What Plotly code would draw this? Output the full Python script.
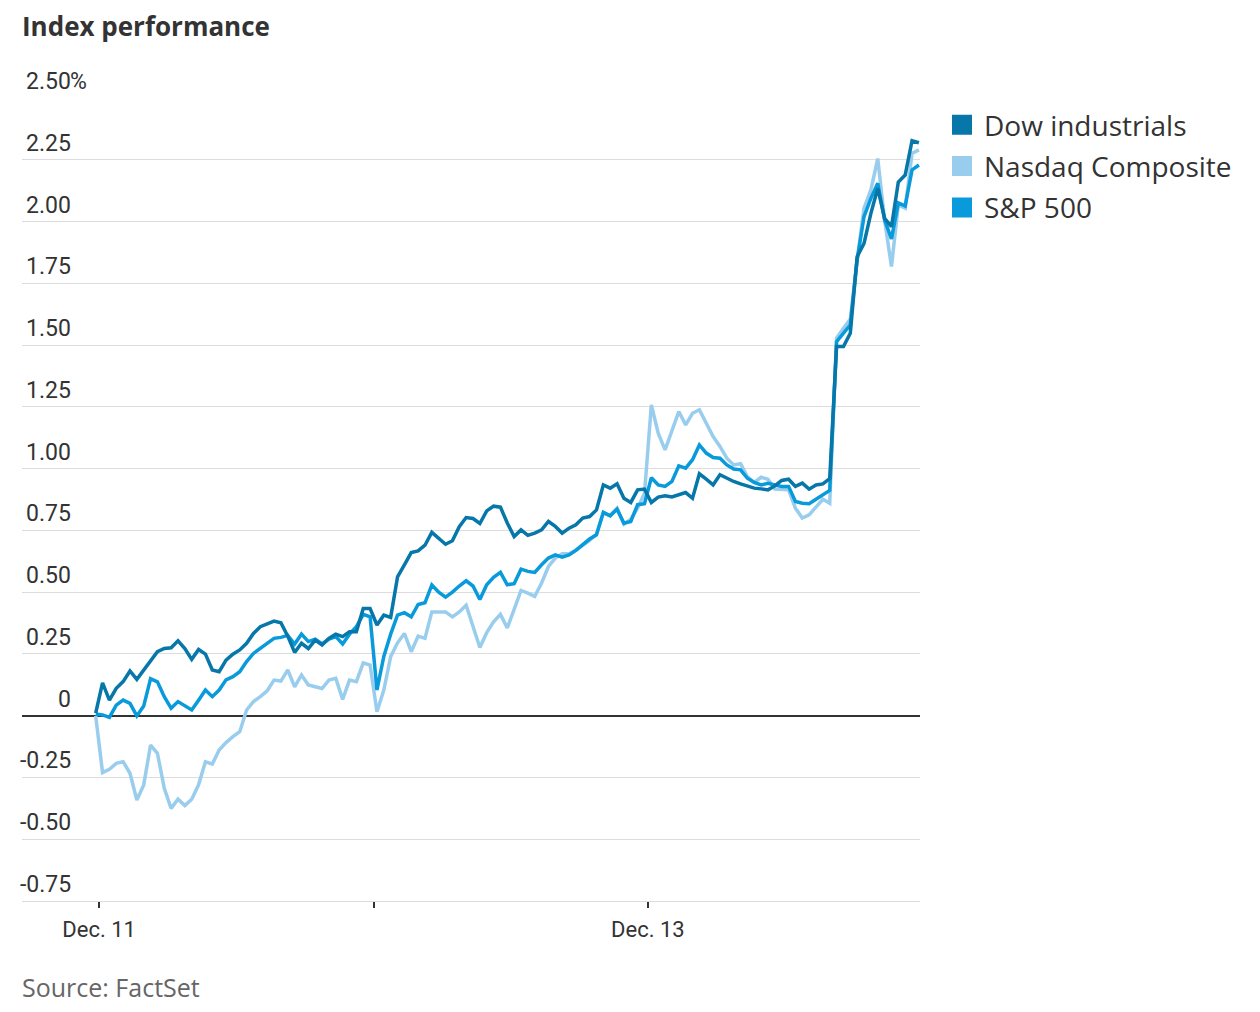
import plotly.graph_objects as go

# ---- data (percent change, 10-minute intervals; index 0 = prior close) ----
dow = [0.01, 0.133, 0.063, 0.111, 0.138, 0.181, 0.147, 0.185, 0.225, 0.259,
       0.272, 0.275, 0.303, 0.272, 0.228, 0.268, 0.249, 0.185, 0.178, 0.225,
       0.249, 0.266, 0.293, 0.333, 0.360, 0.371, 0.383, 0.376, 0.322,
       0.256, 0.293, 0.272, 0.306, 0.286, 0.313, 0.33, 0.32, 0.34, 0.34,
       0.434, 0.434, 0.367, 0.407, 0.398, 0.562, 0.61, 0.66, 0.667, 0.69,
       0.742, 0.717, 0.694, 0.708, 0.765, 0.802, 0.798, 0.778, 0.829, 0.848,
       0.844, 0.78, 0.725, 0.752, 0.73, 0.739, 0.752, 0.786, 0.766, 0.739,
       0.759, 0.773, 0.80, 0.806, 0.833, 0.934, 0.921, 0.939, 0.88, 0.863,
       0.914, 0.917, 0.863, 0.885, 0.89, 0.885,
       0.894, 0.903, 0.88, 0.979, 0.957, 0.934, 0.975, 0.961, 0.948, 0.938,
       0.928, 0.921, 0.918, 0.914, 0.93, 0.952, 0.957, 0.928, 0.941, 0.917,
       0.934, 0.938, 0.96,
       1.494, 1.494, 1.548, 1.858, 1.912, 2.033, 2.135, 2.013, 1.979, 2.16,
       2.188, 2.327, 2.319]

nasdaq = [0.0, -0.23, -0.217, -0.193, -0.186, -0.233, -0.341, -0.28, -0.119, -0.152,
          -0.294, -0.375, -0.338, -0.364, -0.338, -0.28, -0.186, -0.196, -0.139, -0.109,
          -0.085, -0.065, 0.023, 0.057, 0.077, 0.101, 0.144, 0.14, 0.185, 0.117,
          0.165, 0.124, 0.117, 0.11, 0.144, 0.151, 0.066, 0.144, 0.138, 0.214,
          0.205, 0.016, 0.104, 0.239, 0.295, 0.333, 0.259, 0.322, 0.313, 0.42,
          0.42, 0.42, 0.40, 0.42, 0.447, 0.36, 0.276, 0.336, 0.38,
          0.41, 0.355, 0.43, 0.507, 0.496, 0.483, 0.537, 0.604, 0.638, 0.655,
          0.655, 0.67, 0.69, 0.71, 0.735, 0.82, 0.81, 0.84, 0.775, 0.795,
          0.84, 0.90,
          1.258, 1.143, 1.076, 1.157, 1.231, 1.177, 1.224, 1.238, 1.184, 1.13,
          1.09, 1.042, 1.015, 1.02, 0.968, 0.944, 0.965, 0.957, 0.917, 0.914,
          0.914, 0.84, 0.80, 0.813, 0.847, 0.876, 0.86,
          1.528, 1.568, 1.605, 1.845, 2.054, 2.128, 2.255, 2.006, 1.818, 2.067,
          2.054, 2.276, 2.29]

sp500 = [0.007, 0.003, -0.007, 0.043, 0.063, 0.05, -0.001, 0.039, 0.15, 0.137,
         0.077, 0.03, 0.057, 0.039, 0.023, 0.063, 0.104, 0.077, 0.104, 0.145,
         0.158, 0.178, 0.219, 0.252, 0.272, 0.293, 0.313, 0.317, 0.325, 0.29,
         0.33, 0.30, 0.31, 0.29, 0.31, 0.32, 0.29, 0.33, 0.36, 0.41,
         0.40, 0.104, 0.24, 0.33, 0.407, 0.417, 0.40, 0.45, 0.457, 0.529,
         0.50, 0.48, 0.50, 0.525, 0.546, 0.525, 0.47, 0.53, 0.56,
         0.58, 0.53, 0.534, 0.593, 0.584, 0.58, 0.611, 0.638, 0.651, 0.642,
         0.651, 0.669, 0.692, 0.715, 0.732, 0.823, 0.809, 0.836, 0.779, 0.786,
         0.854, 0.858,
         0.963, 0.934, 0.928, 0.948, 1.011, 1.002, 1.036, 1.096, 1.063, 1.045,
         1.042, 1.015, 0.998, 0.995, 0.961, 0.944, 0.934, 0.941, 0.934, 0.928,
         0.928, 0.867, 0.86, 0.858, 0.876, 0.894, 0.912,
         1.514, 1.548, 1.582, 1.845, 2.02, 2.094, 2.155, 2.006, 1.93, 2.075,
         2.063, 2.209, 2.229]

x = list(range(len(dow)))

day_ticks = [0.5, 40.5, 80.5]
day_labels = ["Dec. 11", "", "Dec. 13"]

y_ticks = [2.5, 2.25, 2.0, 1.75, 1.5, 1.25, 1.0, 0.75, 0.5, 0.25, 0.0,
           -0.25, -0.5, -0.75]
y_labels = ["2.50%", "2.25", "2.00", "1.75", "1.50", "1.25", "1.00", "0.75",
            "0.50", "0.25", "0", "-0.25", "-0.50", "-0.75"]

series = [
    ("Nasdaq Composite", nasdaq, "#99CDEE"),
    ("S&P 500", sp500, "#089ADA"),
    ("Dow industrials", dow, "#0777AA"),
]
legend_order = ["Dow industrials", "Nasdaq Composite", "S&P 500"]

NARROW = "Roboto, Liberation Sans, sans-serif"
SANS = "Open Sans, Noto Sans, sans-serif"

# figure is placed by the page at (8, 8); sizes below account for that
W, H = 1252, 1004
ML, MR, MT, MB = 14, 340, 89, 111
plot_w = W - ML - MR
plot_h = H - MT - MB
y_top = 2.5 + 3.25 / (plot_h - 1)

fig = go.Figure()
for name, vals, color in series:
    fig.add_trace(go.Scatter(x=x, y=vals, mode="lines", name=name,
                             line=dict(color=color, width=3.5),
                             showlegend=False, hoverinfo="skip"))

colors = {n: c for n, _, c in series}
for name in legend_order:
    fig.add_trace(go.Scatter(x=[None], y=[None], mode="markers", name=name,
                             legendgroup=name,
                             marker=dict(symbol="square", size=16,
                                         color=colors[name],
                                         line=dict(color=colors[name], width=4))))

label_x = 51 / plot_w
annotations = []
for v, lab in zip(y_ticks, y_labels):
    num = lab.rstrip("%")
    annotations.append(dict(xref="paper", yref="y", x=label_x, y=v,
                            text=num, showarrow=False, xanchor="right",
                            yanchor="bottom", yshift=1,
                            font=dict(family=NARROW, size=23, color="#333333")))
    if lab.endswith("%"):
        annotations.append(dict(xref="paper", yref="y", x=label_x, y=v,
                                text="%", showarrow=False, xanchor="left",
                                yanchor="bottom", yshift=1, xshift=-5,
                                font=dict(family=NARROW, size=23, color="#333333")))

annotations.append(dict(xref="paper", yref="paper", x=0,
                        y=-(987 - 901) / plot_h,
                        text="Source: FactSet", showarrow=False,
                        xanchor="left", yanchor="middle", xshift=-2,
                        font=dict(family=SANS, size=25, color="#666666")))

fig.update_layout(
    width=W, height=H,
    margin=dict(l=ML, r=MR, t=MT, b=MB),
    paper_bgcolor="white", plot_bgcolor="white",
    title=dict(text="<b>Index performance</b>", x=14 / W, xanchor="left",
               xref="container", y=1 - 19 / H, yanchor="middle",
               yref="container",
               font=dict(family=SANS, size=26, color="#333333")),
    xaxis=dict(range=[-10.74, 120.16], tickvals=day_ticks, ticktext=day_labels,
               ticks="outside", ticklen=6, tickwidth=1.5, tickcolor="#333333",
               showgrid=False, zeroline=False, showline=True,
               linecolor="#dddddd", linewidth=1,
               ticklabelstandoff=3,
               tickfont=dict(family=NARROW, size=22, color="#333333")),
    yaxis=dict(range=[-0.75, y_top], tickvals=y_ticks, showticklabels=False,
               showgrid=True, gridcolor="#dddddd", gridwidth=1,
               zeroline=True, zerolinecolor="#333333", zerolinewidth=1.5,
               ticks=""),
    legend=dict(x=(932 - ML) / plot_w, y=1 - 3 / plot_h, xanchor="left",
                yanchor="top",
                font=dict(family=SANS, size=28, color="#333333"),
                traceorder="grouped", tracegroupgap=2, itemwidth=34,
                itemsizing="trace", bgcolor="rgba(0,0,0,0)"),
    annotations=annotations,
    showlegend=True,
)

fig.write_html("out.html")
